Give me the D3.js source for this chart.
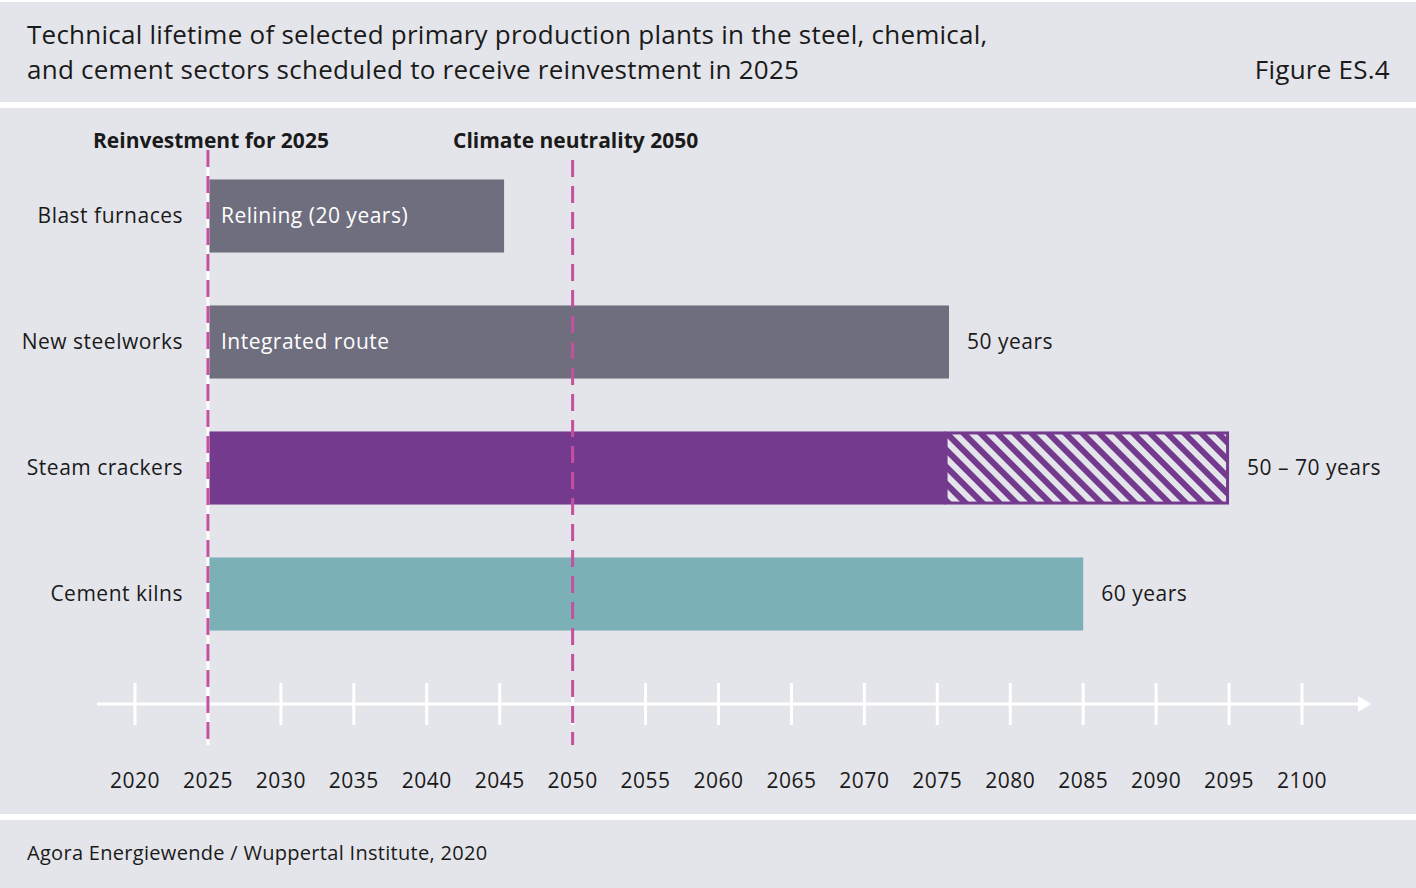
<!DOCTYPE html>
<html>
<head>
<meta charset="utf-8">
<script src="https://cdn.jsdelivr.net/npm/d3@7"></script>
<style>
body{margin:0;background:#e4e5ea;}
svg{display:block;font-family:"Open Sans","Noto Sans",sans-serif;}
</style>
</head>
<body>
<svg id="chart"></svg>
<script>
// data
var categories=["Blast furnaces","New steelworks","Steam crackers","Cement kilns"]
var startYear=[2025,2025,2025,2025]
var endYear=[2045.3,2075.8,2075.6,2085]
var rangeEnd=[null,null,2095,null]
var insideLabels=["Relining (20 years)","Integrated route","",""]
var outsideLabels=["","50 years","50 \u2013 70 years","60 years"]
var barColors=["#6e6e7e","#6e6e7e","#733a8e","#7cb0b7"]
var tickYears=[2020,2025,2030,2035,2040,2045,2050,2055,2060,2065,2070,2075,2080,2085,2090,2095,2100]
var markerYears=[2025,2050]
var markerLabels=["Reinvestment for 2025","Climate neutrality 2050"]

var screen={width:1416,height:888}
var svg=d3.select("#chart")
    .attr("width",screen.width)
    .attr("height",screen.height)

//background + white separators
svg.append("rect").attr("width",screen.width).attr("height",screen.height).attr("fill","#e4e5ea")
svg.append("rect").attr("x",0).attr("y",0).attr("width",screen.width).attr("height",2).attr("fill","#fff")
svg.append("rect").attr("x",0).attr("y",102).attr("width",screen.width).attr("height",6).attr("fill","#fff")
svg.append("rect").attr("x",0).attr("y",814).attr("width",screen.width).attr("height",6).attr("fill","#fff")

//title
var title=svg.append("text").attr("x",27).attr("y",44).attr("font-size",26)
    .attr("letter-spacing",0.25).attr("fill","#1a1a1a")
title.append("tspan").attr("x",27).text("Technical lifetime of selected primary production plants in the steel, chemical,")
title.append("tspan").attr("x",27).attr("y",79).text("and cement sectors scheduled to receive reinvestment in 2025")
svg.append("text").attr("x",1390).attr("y",79).attr("text-anchor","end")
    .attr("font-size",26).attr("letter-spacing",0.25).attr("fill","#1a1a1a").text("Figure ES.4")

svg.append("text").attr("x",27).attr("y",860).attr("font-size",20).attr("letter-spacing",0.3)
    .attr("fill","#1a1a1a")
    .text("Agora Energiewende / Wuppertal Institute, 2020")

var xScale=d3.scaleLinear().domain([2020,2100]).range([135,1302])
var yScale=d3.scaleBand().domain(categories).range([153,657]).paddingInner(0.42).paddingOuter(0.21)

//hatch pattern
var defs=svg.append("defs")
var pat=defs.append("pattern").attr("id","hatch").attr("patternUnits","userSpaceOnUse")
    .attr("width",12).attr("height",12).attr("patternTransform","rotate(-45)")
pat.append("rect").attr("width",12).attr("height",12).attr("fill","#e4e5ea")
pat.append("rect").attr("x",0).attr("width",6).attr("height",12).attr("fill","#733a8e")

var rows=categories.map(function(c,i){
    return {name:c,start:startYear[i],end:endYear[i],range:rangeEnd[i],inside:insideLabels[i],outside:outsideLabels[i],color:barColors[i]}
})

//category labels
svg.selectAll(".cat").data(rows).enter().append("text")
    .attr("class","cat")
    .attr("x",183)
    .attr("y",function(d){return yScale(d.name)+yScale.bandwidth()/2})
    .attr("dy","0.35em")
    .attr("text-anchor","end")
    .attr("font-size",21)
    .attr("letter-spacing",0.5)
    .attr("fill","#1a1a1a")
    .text(function(d){return d.name})

//hatched range parts
svg.selectAll(".range").data(rows.filter(function(d){return d.range!=null})).enter().append("rect")
    .attr("class","range")
    .attr("x",function(d){return xScale(d.end)})
    .attr("y",function(d){return yScale(d.name)+1.5})
    .attr("width",function(d){return xScale(d.range)-xScale(d.end)-1.5})
    .attr("height",yScale.bandwidth()-3)
    .attr("fill","url(#hatch)")
    .attr("stroke","#733a8e")
    .attr("stroke-width",3)

//solid bars
svg.selectAll(".bar").data(rows).enter().append("rect")
    .attr("class","bar")
    .attr("x",function(d){return xScale(d.start)+1})
    .attr("y",function(d){return yScale(d.name)})
    .attr("width",function(d){return xScale(d.end)-xScale(d.start)-1})
    .attr("height",yScale.bandwidth())
    .attr("fill",function(d){return d.color})

svg.selectAll(".inlab").data(rows).enter().append("text")
    .attr("class","inlab")
    .attr("x",function(d){return xScale(d.start)+13})
    .attr("y",function(d){return yScale(d.name)+yScale.bandwidth()/2})
    .attr("dy","0.35em")
    .attr("font-size",21)
    .attr("letter-spacing",0.5)
    .attr("fill","#fff")
    .text(function(d){return d.inside})

svg.selectAll(".outlab").data(rows).enter().append("text")
    .attr("class","outlab")
    .attr("x",function(d){return xScale(d.range!=null?d.range:d.end)+18})
    .attr("y",function(d){return yScale(d.name)+yScale.bandwidth()/2})
    .attr("dy","0.35em")
    .attr("font-size",21)
    .attr("letter-spacing",0.5)
    .attr("fill","#1a1a1a")
    .text(function(d){return d.outside})

//time axis
var axisY=704
svg.append("line").attr("x1",97).attr("x2",1360).attr("y1",axisY).attr("y2",axisY)
    .attr("stroke","#fff").attr("stroke-width",3)
svg.append("path").attr("d","M1358,"+(axisY-8)+"L1371,"+axisY+"L1358,"+(axisY+8)+"Z").attr("fill","#fff")
svg.selectAll(".tick").data(tickYears).enter().append("line")
    .attr("class","tick")
    .attr("x1",function(d){return xScale(d)}).attr("x2",function(d){return xScale(d)})
    .attr("y1",axisY-21).attr("y2",axisY+21)
    .attr("stroke","#fff").attr("stroke-width",3)
svg.selectAll(".ticklab").data(tickYears).enter().append("text")
    .attr("class","ticklab")
    .attr("x",function(d){return xScale(d)})
    .attr("y",788)
    .attr("text-anchor","middle")
    .attr("font-size",21)
    .attr("letter-spacing",0.5)
    .attr("fill","#1a1a1a")
    .text(function(d){return d})

//marker lines
svg.append("line").attr("x1",xScale(2025)).attr("x2",xScale(2025)).attr("y1",150).attr("y2",745)
    .attr("stroke","#fff").attr("stroke-width",3)
svg.selectAll(".marker").data(markerYears).enter().append("line")
    .attr("class","marker")
    .attr("x1",function(d){return xScale(d)}).attr("x2",function(d){return xScale(d)})
    .attr("y1",function(d,i){return i==0?150:160}).attr("y2",745)
    .attr("stroke","#c4509f").attr("stroke-width",3)
    .attr("stroke-dasharray","17,9")
svg.selectAll(".markerlab").data(markerYears).enter().append("text")
    .attr("class","markerlab")
    .attr("x",function(d){return xScale(d)+3})
    .attr("y",148)
    .attr("text-anchor","middle")
    .attr("font-size",21)
    .attr("font-weight","bold")
    .attr("fill","#1a1a1a")
    .text(function(d,i){return markerLabels[i]})
</script>
</body>
</html>
